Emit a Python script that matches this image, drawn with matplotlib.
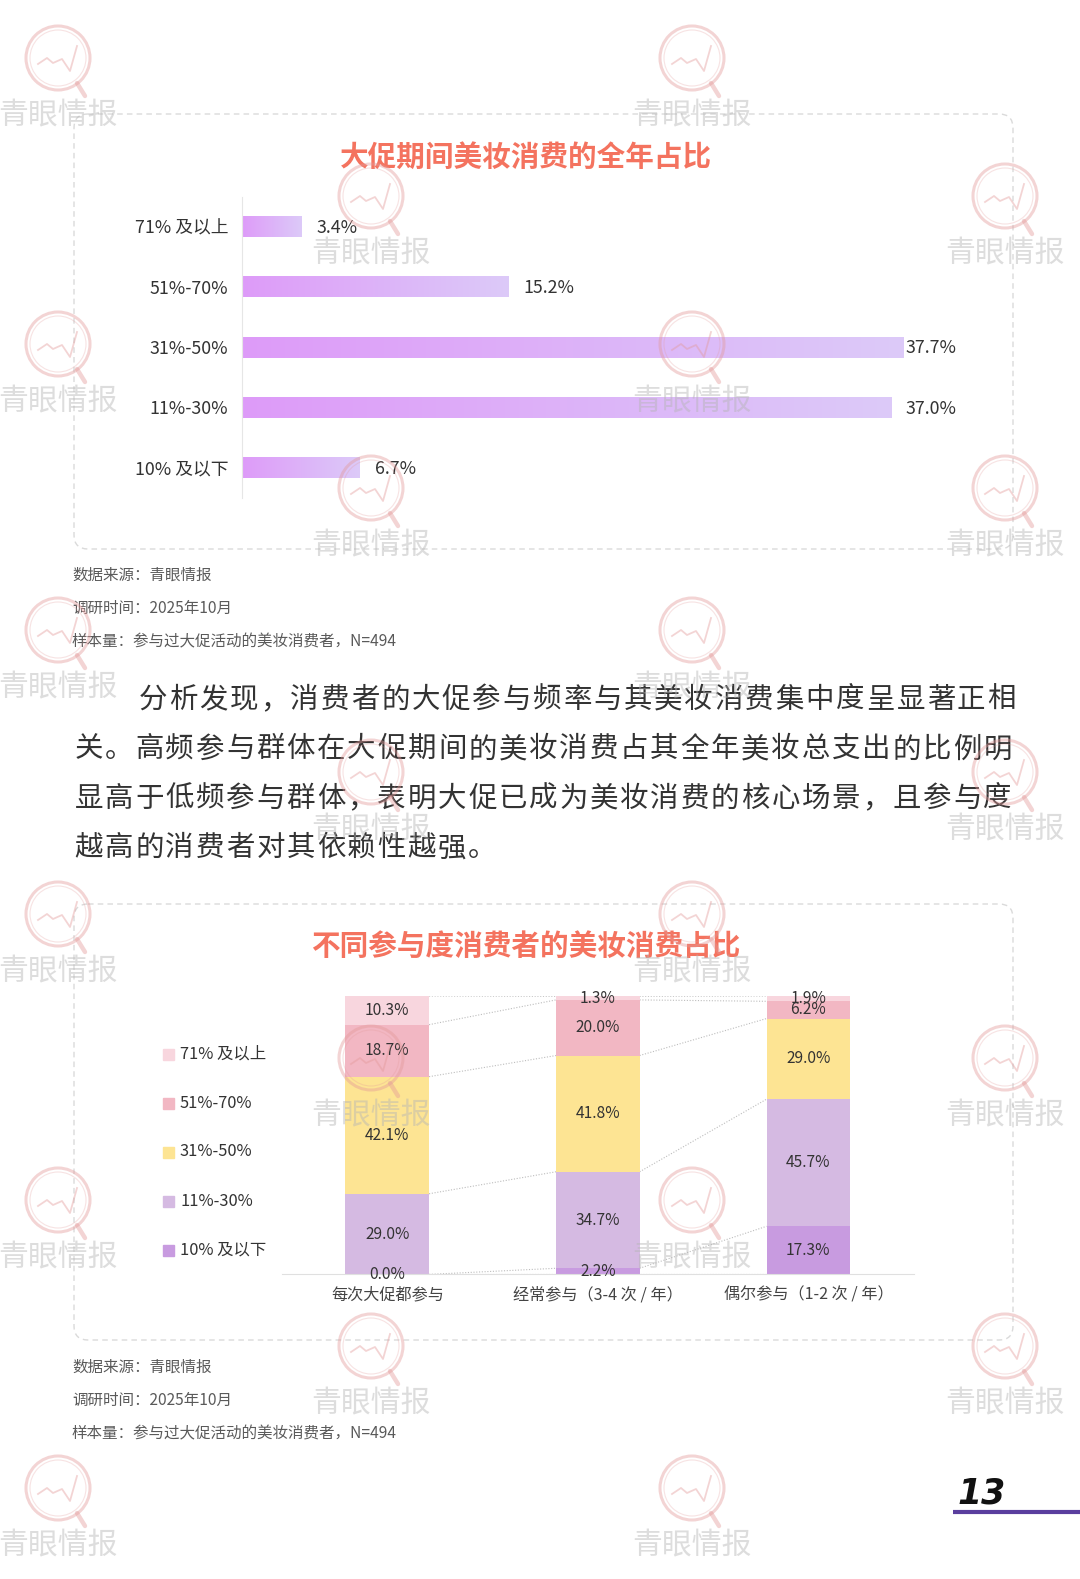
import numpy as np
import matplotlib
matplotlib.use('Agg')
import matplotlib.pyplot as plt
from matplotlib.colors import LinearSegmentedColormap
from matplotlib.patches import FancyBboxPatch, Circle

plt.rcParams['font.family'] = ['Noto Sans CJK SC', 'DejaVu Sans']

W, H = 1080, 1579

# --- 1. DATA ---
# chart 1: share of yearly beauty spend during big promotions
share_labels = ['71% 及以上', '51%-70%', '31%-50%', '11%-30%', '10% 及以下']
share_values = [3.4, 15.2, 37.7, 37.0, 6.7]

# chart 2: stacked by participation level (bottom -> top)
groups = ['每次大促都参与', '经常参与（3-4 次 / 年）', '偶尔参与（1-2 次 / 年）']
stack_labels = ['10% 及以下', '11%-30%', '31%-50%', '51%-70%', '71% 及以上']
seg_10_below = [0.0, 2.2, 17.3]
seg_11_30 = [29.0, 34.7, 45.7]
seg_31_50 = [42.1, 41.8, 29.0]
seg_51_70 = [18.7, 20.0, 6.2]
seg_71_up = [10.3, 1.3, 1.9]
stack_values = [seg_10_below, seg_11_30, seg_31_50, seg_51_70, seg_71_up]
stack_colors = ['#C89BE0', '#D5BAE2', '#FDE493', '#F2B7C3', '#F8D6DE']

notes = ['数据来源：青眼情报', '调研时间：2025年10月', '样本量：参与过大促活动的美妆消费者，N=494']
paragraph = ['分析发现，消费者的大促参与频率与其美妆消费集中度呈显著正相',
             '关。高频参与群体在大促期间的美妆消费占其全年美妆总支出的比例明',
             '显高于低频参与群体，表明大促已成为美妆消费的核心场景，且参与度',
             '越高的消费者对其依赖性越强。']

TITLE_C = '#F4735F'
TEXT_C = '#333333'
NOTE_C = '#5A5A5A'


def px_axes(x0, y0, x1, y1, z=1):
    a = fig.add_axes([x0 / W, 1 - y1 / H, (x1 - x0) / W, (y1 - y0) / H], zorder=z)
    a.patch.set_alpha(0)
    return a


fig = plt.figure(figsize=(W / 100, H / 100), dpi=100)
fig.patch.set_facecolor('white')

# background layer in pixel coordinates
bg = fig.add_axes([0, 0, 1, 1], zorder=0)
bg.set_xlim(0, W)
bg.set_ylim(H, 0)
bg.axis('off')

for (y0, y1) in [(114, 549), (904, 1340)]:
    box = FancyBboxPatch((74, y0), 939, y1 - y0, boxstyle='round,pad=0,rounding_size=14',
                         fill=False, ec='#DADADA', lw=1.0, ls=(0, (4, 3)))
    bg.add_patch(box)

bg.text(526, 157, '大促期间美妆消费的全年占比', color=TITLE_C, fontsize=20.6, weight='bold',
        ha='center', va='center')
bg.text(526, 946, '不同参与度消费者的美妆消费占比', color=TITLE_C, fontsize=20.6, weight='bold',
        ha='center', va='center')

for y_start in [575, 1367]:
    for k, line in enumerate(notes):
        bg.text(72, y_start + k * 33.3, line, color=NOTE_C, fontsize=11.2, ha='left', va='center')

# paragraph, placed char by char to keep the wide spacing
adv = 30.3
for k, line in enumerate(paragraph):
    x0 = 138 if k == 0 else 73.5
    for i, ch in enumerate(line):
        bg.text(x0 + i * adv + adv / 2, 700 + k * 49.4, ch, color=TEXT_C, fontsize=20.5,
                ha='center', va='center')

# page number
bg.text(982, 1494, '13', fontsize=25, weight='bold', style='italic', color='#111111',
        family='DejaVu Sans', ha='center', va='center')
bg.plot([953, 1080], [1512, 1512], color='#5A3E9E', lw=3, solid_capstyle='butt')

# --- 2. CHART 1: gradient horizontal bars ---
PX_PER = 17.55
ax1 = px_axes(242, 196.6, 1005, 497.6)
ypos = np.arange(len(share_labels))
bars = ax1.barh(ypos, share_values, height=0.35, color='none', zorder=2)
grad_cmap = LinearSegmentedColormap.from_list('g', ['#DE9BF8', '#DCCAF9'])
grad = np.linspace(0, 1, 256).reshape(1, -1)
for b in bars:
    im = ax1.imshow(grad, extent=[b.get_x(), b.get_x() + b.get_width(), b.get_y(), b.get_y() + b.get_height()],
                    cmap=grad_cmap, aspect='auto', zorder=2, interpolation='bicubic')
    im.set_clip_path(b)
for i, v in enumerate(share_values):
    ax1.text(min(v + 0.85, 37.8), i + 0.02, f'{v}%', va='center', ha='left', fontsize=12.8, color=TEXT_C)
ax1.set_xlim(0, (1005 - 242) / PX_PER)
ax1.set_ylim(len(share_labels) - 0.5, -0.5)
ax1.set_yticks(ypos)
ax1.set_yticklabels(share_labels, fontsize=12.8, color=TEXT_C)
ax1.tick_params(axis='y', length=0, pad=10)
ax1.set_xticks([])
for s in ['top', 'right', 'bottom']:
    ax1.spines[s].set_visible(False)
ax1.spines['left'].set_color('#E6E6E6')

# --- 3. CHART 2: stacked columns with connectors ---
ax2 = px_axes(282, 996.3, 913.6, 1274.4)
xpos = np.arange(len(groups))
bw = 0.397
bottom = np.zeros(len(groups))
cums = [bottom.copy()]
for vals, col in zip(stack_values, stack_colors):
    vals = np.array(vals)
    ax2.bar(xpos, vals, bw, bottom=bottom, color=col, zorder=2)
    for i in range(len(groups)):
        ax2.text(xpos[i], bottom[i] + vals[i] / 2, f'{vals[i]:.1f}%', ha='center', va='center',
                 fontsize=11.2, color=TEXT_C, zorder=3)
    bottom = bottom + vals
    cums.append(bottom.copy())

for c in cums:
    for i in range(len(groups) - 1):
        ax2.plot([xpos[i] + bw / 2, xpos[i + 1] - bw / 2], [c[i], c[i + 1]], color='#BDBDBD',
                 lw=0.8, ls=(0, (1, 1.5)), zorder=1)

ax2.set_xlim(-0.5, 2.5)
ax2.set_ylim(0, 100)
ax2.set_yticks([])
ax2.set_xticks(xpos)
ax2.set_xticklabels(groups, fontsize=11.6, color='#444444')
ax2.tick_params(axis='x', length=0, pad=9)
for s in ['top', 'right', 'left']:
    ax2.spines[s].set_visible(False)
ax2.spines['bottom'].set_color('#E0E0E0')

# legend (top category first)
leg_y = [1054, 1103, 1152, 1201, 1250]
for lab, col, y in zip(stack_labels[::-1], stack_colors[::-1], leg_y):
    bg.add_patch(plt.Rectangle((163, y - 5.5), 11, 11, color=col))
    bg.text(180, y, lab, fontsize=11.8, color=TEXT_C, ha='left', va='center')

# --- 4. WATERMARKS ---
wm = fig.add_axes([0, 0, 1, 1], zorder=5)
wm.set_xlim(0, W)
wm.set_ylim(H, 0)
wm.axis('off')
wm.patch.set_alpha(0)


def draw_mark(cx, cy):
    wm.add_patch(Circle((cx, cy), 32, fill=False, ec='#E39A9A', lw=2.2, alpha=0.42))
    wm.add_patch(Circle((cx, cy), 28, fill=False, ec='#E39A9A', lw=0.8, alpha=0.28))
    wm.plot([cx + 19, cx + 27], [cy + 25, cy + 38], color='#E39A9A', lw=3.2, alpha=0.42,
            solid_capstyle='round')
    zx = [-20, -11, -5, 4, 12, 19]
    zy = [6, 0, 5, 1, 13, -12]
    wm.plot([cx + a for a in zx], [cy + b for b in zy], color='#E39A9A', lw=1.3, alpha=0.42)
    wm.text(cx, cy + 58, '青眼情报', fontsize=21.5, color='#B5B5B5', alpha=0.45, ha='center',
            va='center', weight='light')


for cx in [58, 692]:
    for cy in [58, 344, 630, 914, 1200, 1488]:
        draw_mark(cx, cy)
for cx in [371, 1005]:
    for cy in [196, 488, 772, 1058, 1346]:
        draw_mark(cx, cy)

fig.savefig('out.png', dpi=100, facecolor='white')
